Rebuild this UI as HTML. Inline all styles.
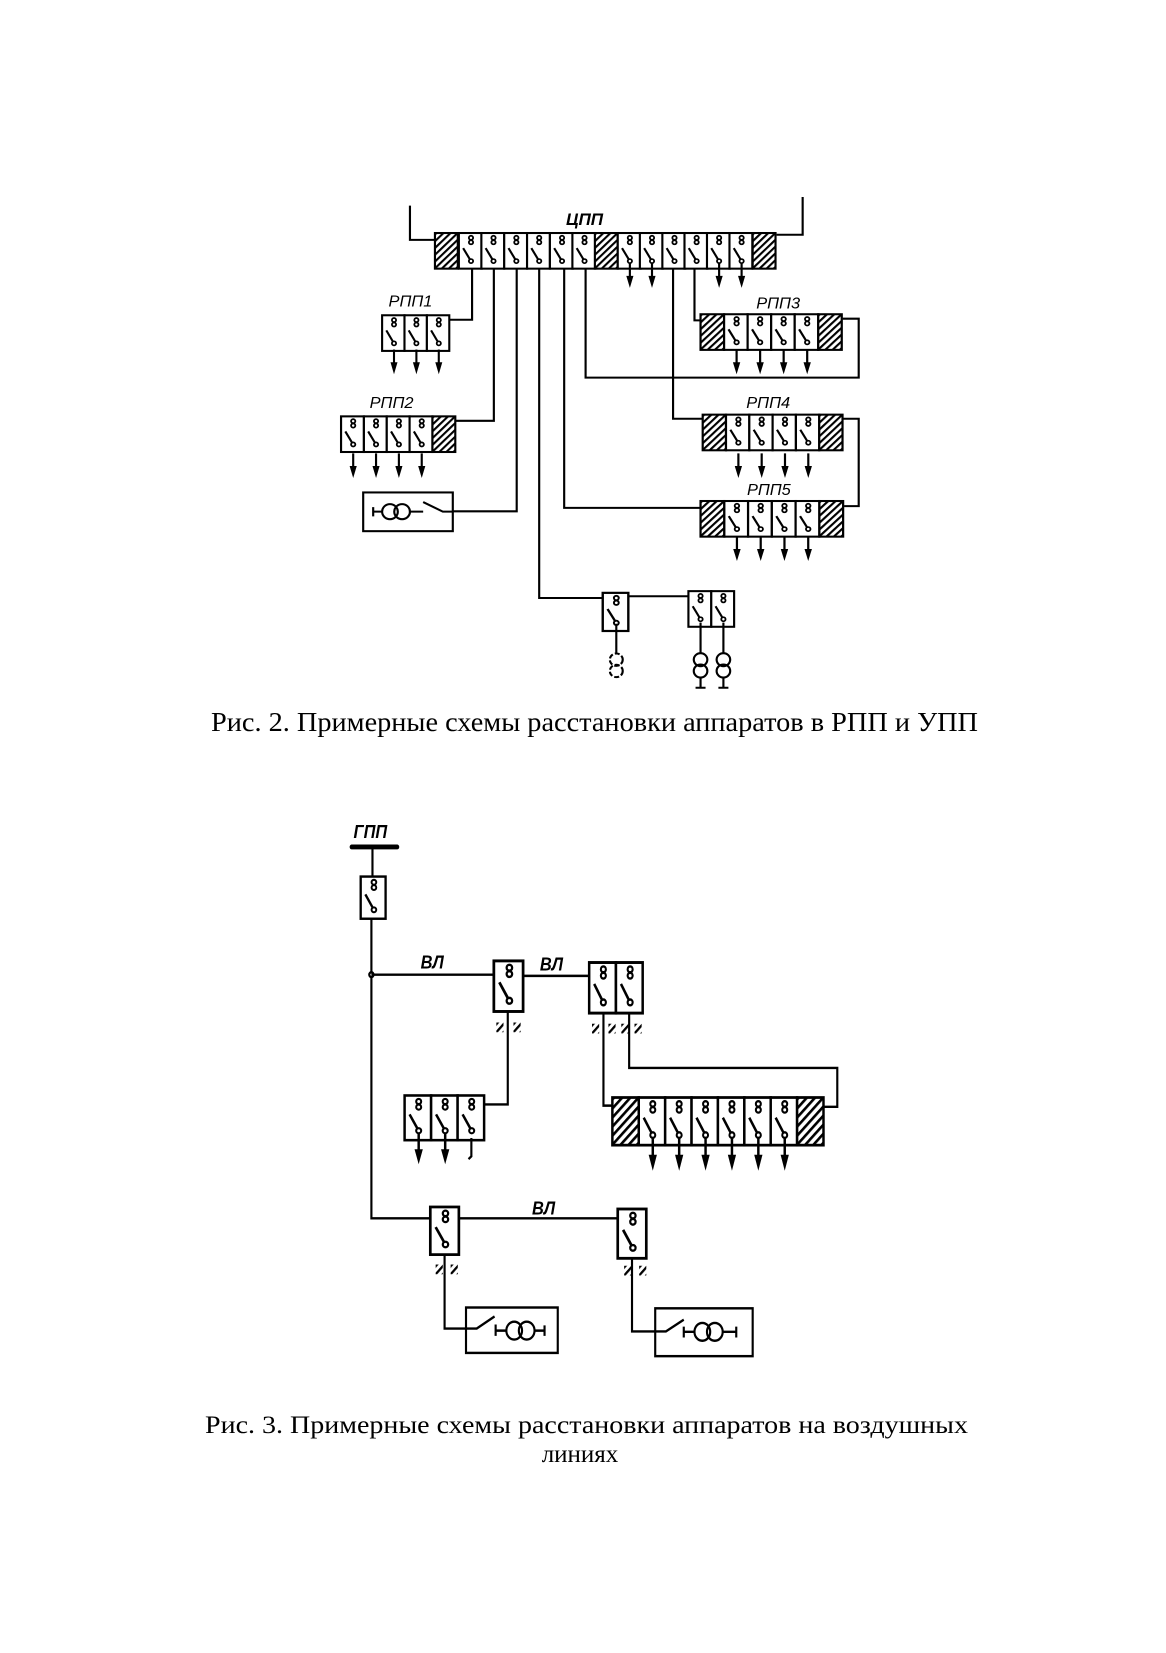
<!DOCTYPE html>
<html><head><meta charset="utf-8"><style>
html,body{margin:0;padding:0;background:#fff;}
svg{display:block;}
</style></head><body>
<svg width="1166" height="1653" viewBox="0 0 1166 1653" xmlns="http://www.w3.org/2000/svg">
<defs>
<pattern id="h" width="14" height="14" patternUnits="userSpaceOnUse" patternTransform="rotate(45)">
<rect width="14" height="14" fill="#fff"/><rect width="6" height="14" fill="#000"/>
</pattern>
<g id="sw">
<rect x="0" y="0" width="64" height="104" fill="#fff" stroke="#000" stroke-width="6"/>
<circle cx="34" cy="14" r="6" fill="#fff" stroke="#000" stroke-width="5"/>
<circle cx="34" cy="27" r="6" fill="#fff" stroke="#000" stroke-width="5"/>
<circle cx="34" cy="82" r="6" fill="#fff" stroke="#000" stroke-width="5"/>
<line x1="31" y1="77" x2="12" y2="44" stroke="#000" stroke-width="6"/>
</g>
<g id="ht">
<rect x="0" y="0" width="64" height="104" fill="url(#h)" stroke="#000" stroke-width="6"/>
</g>
<g id="ar">
<line x1="34" y1="88" x2="34" y2="130" stroke="#000" stroke-width="6"/>
<polygon points="24,125 44,125 34,160" fill="#000"/>
</g>
<g id="mk">
<rect x="0" y="0" width="20" height="24" fill="url(#h)"/>
</g>
</defs>

<!-- Figure 2 -->
<g transform="translate(300,179.9) scale(0.357,0.3427)" fill="none" stroke="#000" stroke-width="6">
<path d="M308,75 V175 H378"/>
<path d="M1408,50 V160 H1335"/>
<text x="745" y="132" font-family="Liberation Sans, sans-serif" font-style="italic" font-weight="bold" font-size="48" fill="#000" stroke="none">ЦПП</text>
<g stroke="none">
<use href="#ht" x="378" y="155"/>
<use href="#sw" x="445" y="155"/><use href="#sw" x="508" y="155"/><use href="#sw" x="572" y="155"/>
<use href="#sw" x="636" y="155"/><use href="#sw" x="700" y="155"/><use href="#sw" x="763" y="155"/>
<use href="#ht" x="826" y="155"/>
<use href="#sw" x="890" y="155"/><use href="#sw" x="952" y="155"/><use href="#sw" x="1015" y="155"/>
<use href="#sw" x="1077" y="155"/><use href="#sw" x="1140" y="155"/><use href="#sw" x="1203" y="155"/>
<use href="#ht" x="1268" y="155"/>
<use href="#ar" x="890" y="155"/><use href="#ar" x="952" y="155"/><use href="#ar" x="1140" y="155"/><use href="#ar" x="1203" y="155"/>
</g>
<path d="M482,258 V408 H420"/>
<path d="M543,258 V703 H437"/>
<path d="M607,258 V967 H428"/>
<path d="M670,258 V1220 H848"/>
<path d="M920,1215 H1088"/>
<path d="M740,258 V957 H1122"/>
<path d="M800,258 V577 H1565 V405 H1520"/>
<path d="M1045,258 V697 H1128"/>
<path d="M1522,697 H1565 V952 H1524"/>
<path d="M1105,258 V410 H1122"/>
<g font-family="Liberation Sans, sans-serif" font-style="italic" font-size="46" fill="#000" stroke="none">
<text x="248" y="370">РПП1</text>
<text x="195" y="665">РПП2</text>
<text x="1278" y="375">РПП3</text>
<text x="1250" y="665">РПП4</text>
<text x="1252" y="920">РПП5</text>
</g>
<g stroke="none" transform="translate(230,395) scale(0.98,1)">
<use href="#sw" x="0" y="0"/><use href="#sw" x="64" y="0"/><use href="#sw" x="128" y="0"/>
<use href="#ar" x="0" y="12"/><use href="#ar" x="64" y="12"/><use href="#ar" x="128" y="12"/>
</g>
<g stroke="none" transform="translate(115,690)">
<use href="#sw" x="0" y="0"/><use href="#sw" x="64" y="0"/><use href="#sw" x="128" y="0"/><use href="#sw" x="192" y="0"/><use href="#ht" x="256" y="0"/>
<use href="#ar" x="0" y="20"/><use href="#ar" x="64" y="20"/><use href="#ar" x="128" y="20"/><use href="#ar" x="192" y="20"/>
</g>
<g stroke="none" transform="translate(1122,392) scale(1.03,1)">
<use href="#ht" x="0" y="0"/><use href="#sw" x="64" y="0"/><use href="#sw" x="128" y="0"/><use href="#sw" x="192" y="0"/><use href="#sw" x="256" y="0"/><use href="#ht" x="320" y="0"/>
<use href="#ar" x="64" y="15"/><use href="#ar" x="128" y="15"/><use href="#ar" x="192" y="15"/><use href="#ar" x="256" y="15"/>
</g>
<g stroke="none" transform="translate(1128,685) scale(1.02,1)">
<use href="#ht" x="0" y="0"/><use href="#sw" x="64" y="0"/><use href="#sw" x="128" y="0"/><use href="#sw" x="192" y="0"/><use href="#sw" x="256" y="0"/><use href="#ht" x="320" y="0"/>
<use href="#ar" x="64" y="25"/><use href="#ar" x="128" y="25"/><use href="#ar" x="192" y="25"/><use href="#ar" x="256" y="25"/>
</g>
<g stroke="none" transform="translate(1122,937) scale(1.04,1)">
<use href="#ht" x="0" y="0"/><use href="#sw" x="64" y="0"/><use href="#sw" x="128" y="0"/><use href="#sw" x="192" y="0"/><use href="#sw" x="256" y="0"/><use href="#ht" x="320" y="0"/>
<use href="#ar" x="64" y="15"/><use href="#ar" x="128" y="15"/><use href="#ar" x="192" y="15"/><use href="#ar" x="256" y="15"/>
</g>
<rect x="177" y="912" width="251" height="113" fill="#fff"/>
<path d="M205,955 V982 M205,968 H232 M305,968 H345"/>
<circle cx="252" cy="968" r="22"/><circle cx="286" cy="968" r="22"/>
<path d="M345,940 L400,968 H428"/>
<g stroke="none">
<use href="#sw" x="848" y="1205" transform="translate(848,1205) scale(1.12,1.07) translate(-848,-1205)"/>
<use href="#sw" x="1088" y="1200"/><use href="#sw" x="1152" y="1200"/>
</g>
<path d="M886,1295 V1380 M1122,1292 V1380 M1186,1292 V1380"/>
<circle cx="886" cy="1400" r="18" stroke-dasharray="14 6"/><circle cx="886" cy="1433" r="18" stroke-dasharray="14 6"/>
<circle cx="1122" cy="1400" r="19"/><circle cx="1122" cy="1433" r="19"/>
<circle cx="1186" cy="1400" r="19"/><circle cx="1186" cy="1433" r="19"/>
<path d="M1122,1452 V1482 M1108,1482 H1136 M1186,1452 V1482 M1172,1482 H1200"/>
</g>
<text x="211" y="731" font-family="Liberation Serif, serif" font-size="27" textLength="767" lengthAdjust="spacingAndGlyphs" fill="#000">Рис. 2. Примерные схемы  расстановки аппаратов в РПП  и  УПП</text>

<!-- Figure 3 -->
<g transform="translate(300,781.3) scale(0.357,0.4054)" fill="none" stroke="#000" stroke-width="6">
<text x="150" y="140" font-family="Liberation Sans, sans-serif" font-style="italic" font-weight="bold" font-size="46" fill="#000" stroke="none">ГПП</text>
<line x1="145" y1="162" x2="272" y2="162" stroke-width="12" stroke-linecap="round"/>
<path d="M203,162 V240"/>
<g stroke="none"><use href="#sw" x="170" y="235" transform="translate(170,235) scale(1.09,1) translate(-170,-235)"/></g>
<path d="M200,338 V1078 H365"/>
<circle cx="200" cy="477" r="6" fill="#fff"/>
<path d="M200,477 H543 M625,480 H810"/>
<path d="M445,1078 H890"/>
<g font-family="Liberation Sans, sans-serif" font-style="italic" font-weight="bold" font-size="46" fill="#000" stroke="none">
<text x="338" y="462">ВЛ</text><text x="672" y="467">ВЛ</text><text x="650" y="1068">ВЛ</text>
</g>
<g stroke="none">
<use href="#sw" x="0" y="0" transform="translate(543,443) scale(1.28,1.2)"/>
<use href="#sw" x="0" y="0" transform="translate(810,447) scale(1.17,1.2)"/>
<use href="#sw" x="0" y="0" transform="translate(885,447) scale(1.17,1.2)"/>
<use href="#sw" x="0" y="0" transform="translate(365,1050) scale(1.25,1.13)"/>
<use href="#sw" x="0" y="0" transform="translate(890,1055) scale(1.25,1.17)"/>
<use href="#mk" x="550" y="595"/><use href="#mk" x="598" y="595"/>
<use href="#mk" x="818" y="598"/><use href="#mk" x="864" y="598"/><use href="#mk" x="900" y="598"/><use href="#mk" x="937" y="598"/>
<use href="#mk" x="380" y="1192"/><use href="#mk" x="422" y="1192"/>
<use href="#mk" x="908" y="1195"/><use href="#mk" x="950" y="1195"/>
</g>
<path d="M582,568 V797 H515"/>
<path d="M850,572 V800 H875"/>
<path d="M922,572 V707 H1505 V803 H1466"/>
<path d="M405,1168 V1350 H465"/>
<path d="M930,1177 V1357 H995"/>
<g stroke="none" transform="translate(293,775) scale(1.16,1.06)">
<use href="#sw" x="0" y="0"/><use href="#sw" x="64" y="0"/><use href="#sw" x="128" y="0"/>
<use href="#ar" x="0" y="0"/><use href="#ar" x="64" y="0"/>
</g>
<path d="M480,880 V925 L472,932"/>
<g stroke="none" transform="translate(875,780) scale(1.155,1.13)">
<use href="#ht" x="0" y="0"/><use href="#sw" x="64" y="0"/><use href="#sw" x="128" y="0"/><use href="#sw" x="192" y="0"/><use href="#sw" x="256" y="0"/><use href="#sw" x="320" y="0"/><use href="#sw" x="384" y="0"/><use href="#ht" x="448" y="0"/>
<use href="#ar" x="64" y="0"/><use href="#ar" x="128" y="0"/><use href="#ar" x="192" y="0"/><use href="#ar" x="256" y="0"/><use href="#ar" x="320" y="0"/><use href="#ar" x="384" y="0"/>
</g>
<rect x="465" y="1298" width="257" height="112"/>
<path d="M465,1350 H495 L545,1320 M548,1340 V1368 M548,1355 H578 M657,1355 H685 M685,1342 V1368"/>
<circle cx="600" cy="1355" r="22"/><circle cx="635" cy="1355" r="22"/>
<rect x="995" y="1300" width="273" height="118"/>
<path d="M995,1357 H1025 L1075,1328 M1075,1345 V1372 M1075,1358 H1105 M1185,1358 H1222 M1222,1345 V1372"/>
<circle cx="1127" cy="1358" r="22"/><circle cx="1162" cy="1358" r="22"/>
</g>
<text x="205" y="1433" font-family="Liberation Serif, serif" font-size="25" textLength="763" lengthAdjust="spacingAndGlyphs" fill="#000">Рис. 3. Примерные схемы расстановки аппаратов на воздушных</text>
<text x="580" y="1462" text-anchor="middle" font-family="Liberation Serif, serif" font-size="25" fill="#000">линиях</text>
</svg>
</body></html>
